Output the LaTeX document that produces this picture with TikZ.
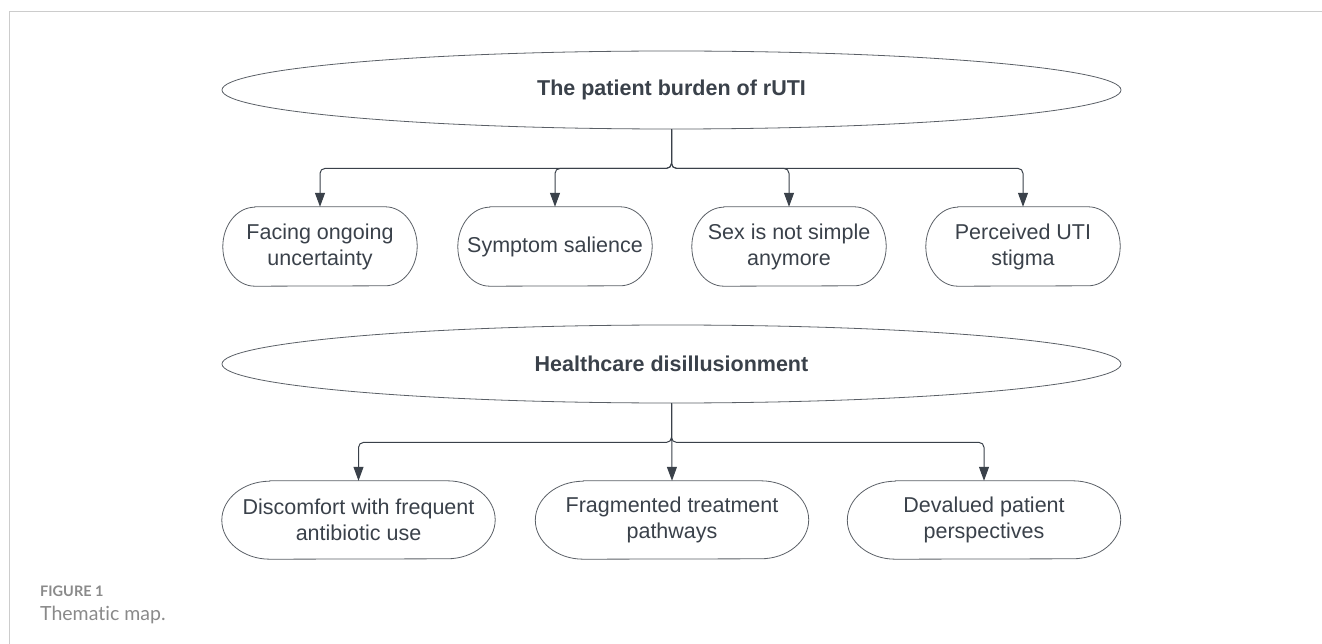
\documentclass[tikz,border=0pt]{standalone}
\usepackage{fontspec}
\setmainfont{Liberation Sans}
\newfontfamily\capfont[Ligatures=NoCommon]{Lato}
\usetikzlibrary{arrows.meta,shapes.geometric}
\definecolor{ink}{HTML}{3A414A}
\definecolor{outl}{HTML}{5A5F66}
\definecolor{framec}{HTML}{CCCCCC}
\definecolor{capc}{HTML}{8A8A8A}
\begin{document}
\begin{tikzpicture}[x=1pt,y=-1pt,
  theme/.style={ellipse, draw=outl, line width=0.8pt, minimum width=899pt, minimum height=78pt, inner sep=0pt, font=\bfseries\fontsize{21.5}{26}\selectfont, text=ink},
  pillt/.style={minimum width=194pt, minimum height=79pt, inner sep=0pt, align=center, font=\fontsize{21.5}{26}\selectfont, text=ink},
  pillb/.style={pillt, minimum width=273pt, minimum height=78pt},
  outline/.style={draw=outl, line width=0.8pt},
  link/.style={draw=ink, line width=1pt, rounded corners=5pt, -{Triangle[length=14pt,width=10pt]}},
  captop/.style={anchor=base west, inner sep=0pt, text=capc}]
\useasboundingbox (0,0) rectangle (1322,644);
\draw[framec, line width=1pt] (9,644) -- (9,12) -- (1322,12);

\node[theme] (t1) at (671.5,90) {The patient burden of rUTI};
\node[theme] (t2) at (671.5,364) {Healthcare disillusionment};

\node[pillt] (a1) at (320,246.5) {Facing ongoing\\uncertainty};
\node[pillt] (a2) at (555,246.5) {Symptom salience};
\node[pillt] (a3) at (789,246.5) {Sex is not simple\\anymore};
\node[pillt] (a4) at (1023,246.5) {Perceived UTI\\stigma};

\node[pillb] (b1) at (358.5,520) {Discomfort with frequent\\antibiotic use};
\node[pillb] (b2) at (672,520) {Fragmented treatment\\pathways};
\node[pillb] (b3) at (984,520) {Devalued patient\\perspectives};

\foreach \n/\r/\h in {a1/32/39.5,a2/32/39.5,a3/32/39.5,a4/32/39.5,b1/48/39,b2/48/39,b3/48/39}
  \draw[outline] ([xshift=\r pt]\n.north west) -- ([xshift=-\r pt]\n.north east)
    arc[start angle=90,end angle=-90,x radius=\r pt,y radius=\h pt]
    -- ([xshift=\r pt]\n.south west)
    arc[start angle=270,end angle=90,x radius=\r pt,y radius=\h pt] -- cycle;

\foreach \c in {a1,a2,a3,a4}
  \draw[link] (t1.south) -- ++(0,39) -| (\c.north);
\draw[link] (t2.south) -- ++(0,39) -| (b1.north);
\draw[link] (t2.south) -- (b2.north);
\draw[link] (t2.south) -- ++(0,39) -| (b3.north);

\node[captop, font=\capfont\bfseries\fontsize{14.5}{16}\selectfont] (cap1) at (40,596) {FIGURE 1};
\node[captop, font=\capfont\fontsize{19.5}{22}\selectfont] (cap2) at (40,620) {Thematic map.};
\end{tikzpicture}
\end{document}
